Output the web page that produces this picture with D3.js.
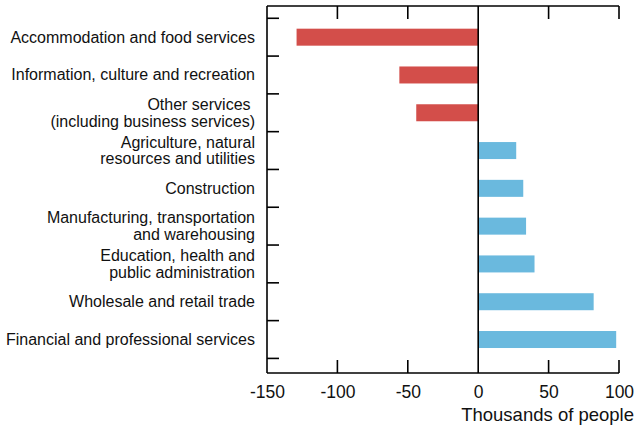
<!DOCTYPE html>
<html><head><meta charset="utf-8">
<script src="https://cdn.jsdelivr.net/npm/d3@7"></script>
<style>body{margin:0;background:#fff}text{font-family:"Liberation Sans",Arial,sans-serif;fill:#111}</style>
</head><body>
<svg id="c" width="636" height="427"></svg>
<script>
const categories = [
  ["Accommodation and food services"],
  ["Information, culture and recreation"],
  ["Other services\u00a0", "(including business services)"],
  ["Agriculture, natural", "resources and utilities"],
  ["Construction"],
  ["Manufacturing, transportation", "and warehousing"],
  ["Education, health and", "public administration"],
  ["Wholesale and retail trade"],
  ["Financial and professional services"]
];
const values = [-129, -56, -44, 27, 32, 34, 40, 82, 98];
const xTicks = [-150, -100, -50, 0, 50, 100];
const xTitle = "Thousands of people";
const negColor = "#d34e4a", posColor = "#6ab9de";

const svg = d3.select("#c");
const L = 267, R = 619, T = 6, B = 373;
const x = d3.scaleLinear().domain([-150, 100]).range([L, R]);
const y = d3.scaleLinear().domain([-0.825, 8.886]).range([T, B]);
const bh = 17;

svg.selectAll("rect.bar").data(values).join("rect")
  .attr("x", d => x(Math.min(0, d))).attr("width", d => Math.abs(x(d) - x(0)))
  .attr("y", (d, i) => y(i) - bh / 2).attr("height", bh)
  .attr("fill", d => d < 0 ? negColor : posColor);

const line = (x1, y1, x2, y2, w) => svg.append("line").attr("x1", x1).attr("y1", y1).attr("x2", x2).attr("y2", y2)
  .attr("stroke", "#000").attr("stroke-width", w || 1.6);

line(L, T, R, T); line(L, T, L, B); line(L, B, R, B);
line(x(0), T, x(0), B);
xTicks.forEach(t => { if (t !== -150 && t !== 0) { line(x(t), T, x(t), T + 13); line(x(t), B, x(t), B - 13); } });
d3.range(10).forEach(k => line(L, y(k - 0.5), L + 12, y(k - 0.5)));

const ax = d3.axisBottom(x).tickValues(xTicks).tickFormat(d => String(d)).tickSize(0).tickPadding(0);
const g = svg.append("g").attr("transform", `translate(0,${B})`).call(ax);
g.select(".domain").remove();
g.selectAll("text").attr("dy", null).attr("y", 25).style("font-size", "17.5px").style("fill", "#111")
  .style("font-family", '"Liberation Sans",Arial,sans-serif');

svg.append("text").attr("x", 634).attr("y", 421).attr("text-anchor", "end").style("font-size", "18.5px").text(xTitle);

categories.forEach((lines, i) => {
  const n = lines.length, lh = 16.5;
  const t = svg.append("text").attr("text-anchor", "end").style("font-size", "16px").style("white-space", "pre");
  lines.forEach((s, j) => {
    t.append("tspan").attr("x", 255).attr("y", y(i) + 5.5 + (j - (n - 1) / 2) * lh).text(s);
  });
});
</script>
</body></html>
